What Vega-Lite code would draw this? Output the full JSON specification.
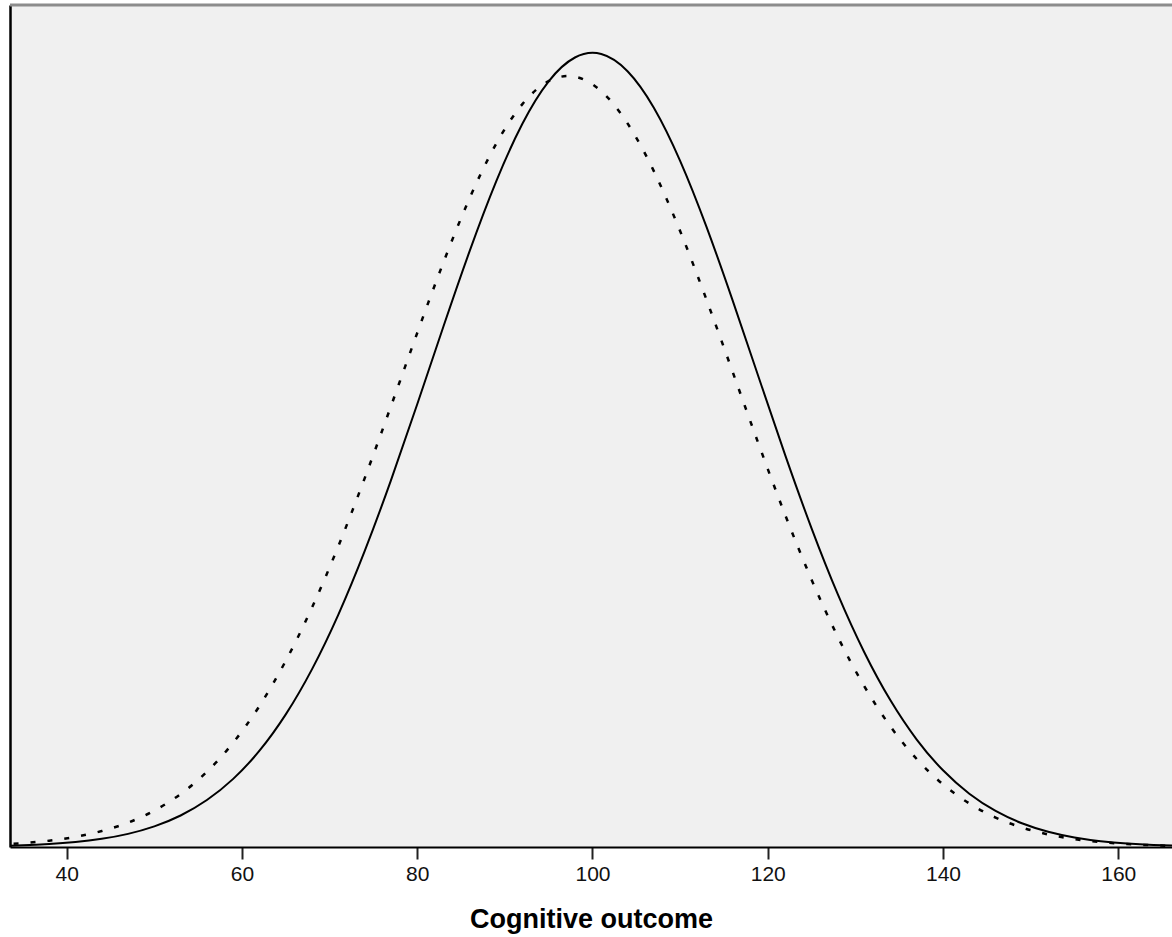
{
  "$schema": "https://vega.github.io/schema/vega-lite/v6.json",
  "width": 1162,
  "height": 842,
  "autosize": "none",
  "padding": {"left": 10, "top": 5, "right": 0, "bottom": 90},
  "background": "white",
  "config": {
    "view": {"fill": "#f0f0f0", "stroke": null},
    "font": "Liberation Sans"
  },
  "datasets": {
    "solid": [
      {"x": 32, "d": 0.0251}, {"x": 35, "d": 0.045}, {"x": 38, "d": 0.0785}, {"x": 41, "d": 0.1334},
      {"x": 44, "d": 0.221}, {"x": 47, "d": 0.356}, {"x": 50, "d": 0.5596}, {"x": 53, "d": 0.856},
      {"x": 56, "d": 1.2757}, {"x": 59, "d": 1.85}, {"x": 62, "d": 2.616}, {"x": 65, "d": 3.602},
      {"x": 68, "d": 4.832}, {"x": 71, "d": 6.313}, {"x": 74, "d": 8.035}, {"x": 77, "d": 9.959},
      {"x": 80, "d": 12.025}, {"x": 83, "d": 14.143}, {"x": 86, "d": 16.199}, {"x": 89, "d": 18.075},
      {"x": 92, "d": 19.644}, {"x": 95, "d": 20.796}, {"x": 98, "d": 21.444}, {"x": 101, "d": 21.539},
      {"x": 104, "d": 21.072}, {"x": 107, "d": 20.08}, {"x": 110, "d": 18.638}, {"x": 113, "d": 16.85},
      {"x": 116, "d": 14.84}, {"x": 119, "d": 12.731}, {"x": 122, "d": 10.636}, {"x": 125, "d": 8.656},
      {"x": 128, "d": 6.861}, {"x": 131, "d": 5.298}, {"x": 134, "d": 3.984}, {"x": 137, "d": 2.919},
      {"x": 140, "d": 2.083}, {"x": 143, "d": 1.448}, {"x": 146, "d": 0.98}, {"x": 149, "d": 0.6465},
      {"x": 152, "d": 0.415}, {"x": 155, "d": 0.2597}, {"x": 158, "d": 0.1583}, {"x": 161, "d": 0.094},
      {"x": 164, "d": 0.0543}, {"x": 167, "d": 0.0306}
    ],
    "dashed": [
      {"x": 32, "d": 0.0618}, {"x": 35, "d": 0.1042}, {"x": 38, "d": 0.1717}, {"x": 41, "d": 0.276},
      {"x": 44, "d": 0.4329}, {"x": 47, "d": 0.6624}, {"x": 50, "d": 0.9884}, {"x": 53, "d": 1.439},
      {"x": 56, "d": 2.0446}, {"x": 59, "d": 2.834}, {"x": 62, "d": 3.832}, {"x": 65, "d": 5.057},
      {"x": 68, "d": 6.508}, {"x": 71, "d": 8.173}, {"x": 74, "d": 10.014}, {"x": 77, "d": 11.971},
      {"x": 80, "d": 13.961}, {"x": 83, "d": 15.885}, {"x": 86, "d": 17.634}, {"x": 89, "d": 19.097},
      {"x": 92, "d": 20.178}, {"x": 95, "d": 20.802}, {"x": 98, "d": 20.922}, {"x": 101, "d": 20.53},
      {"x": 104, "d": 19.654}, {"x": 107, "d": 18.358}, {"x": 110, "d": 16.729}, {"x": 113, "d": 14.872},
      {"x": 116, "d": 12.901}, {"x": 119, "d": 10.916}, {"x": 122, "d": 9.013}, {"x": 125, "d": 7.262},
      {"x": 128, "d": 5.706}, {"x": 131, "d": 4.374}, {"x": 134, "d": 3.273}, {"x": 137, "d": 2.389},
      {"x": 140, "d": 1.701}, {"x": 143, "d": 1.182}, {"x": 146, "d": 0.8005}, {"x": 149, "d": 0.5294},
      {"x": 152, "d": 0.3415}, {"x": 155, "d": 0.215}, {"x": 158, "d": 0.1322}, {"x": 161, "d": 0.0791},
      {"x": 164, "d": 0.0462}, {"x": 167, "d": 0.0263}
    ]
  },
  "layer": [
    {
      "data": {"name": "dashed"},
      "mark": {"type": "line", "interpolate": "natural", "clip": true, "color": "#000000", "strokeWidth": 2.5, "strokeDash": [5, 12]},
      "encoding": {
        "x": {
          "field": "x", "type": "quantitative",
          "scale": {"domain": [33.53, 166.13], "nice": false, "zero": false},
          "axis": {
            "values": [40, 60, 80, 100, 120, 140, 160],
            "grid": false,
            "title": "Cognitive outcome",
            "titleFont": "Liberation Sans",
            "titleFontSize": 27,
            "titleFontWeight": "bold",
            "titleColor": "#000000",
            "titleBaseline": "alphabetic",
            "titleY": 80,
            "labelFont": "Liberation Sans",
            "labelFontSize": 21,
            "labelColor": "#111111",
            "labelPadding": 4,
            "tickSize": 12,
            "tickWidth": 2,
            "tickColor": "#222222",
            "domainColor": "#000000",
            "domainWidth": 2
          }
        },
        "y": {
          "field": "d", "type": "quantitative",
          "scale": {"domain": [0, 22.87], "nice": false, "zero": true},
          "axis": {
            "title": null, "labels": false, "ticks": false, "grid": false,
            "domainColor": "#000000", "domainWidth": 2.5
          }
        }
      }
    },
    {
      "data": {"name": "solid"},
      "mark": {"type": "line", "interpolate": "natural", "clip": true, "color": "#000000", "strokeWidth": 2},
      "encoding": {
        "x": {"field": "x", "type": "quantitative"},
        "y": {"field": "d", "type": "quantitative"}
      }
    },
    {
      "data": {"values": [{"top": 22.87}]},
      "mark": {"type": "rule", "color": "#8c8c8c", "strokeWidth": 3},
      "encoding": {
        "y": {"field": "top", "type": "quantitative"}
      }
    }
  ]
}
